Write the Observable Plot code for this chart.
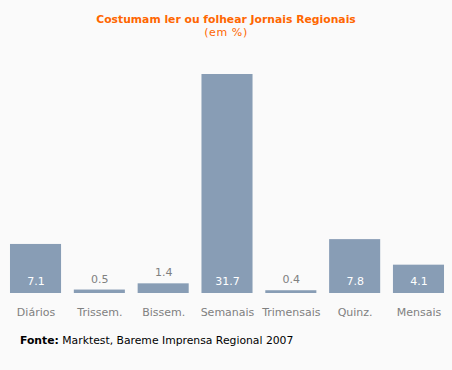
<!DOCTYPE html>
<html>
<head>
<meta charset="utf-8">
<script src="https://cdn.jsdelivr.net/npm/d3@7"></script>
<script src="https://cdn.jsdelivr.net/npm/@observablehq/plot@0.6"></script>
<style>
  html, body { margin: 0; padding: 0; background: #fafafa; }
  body { width: 452px; height: 370px; position: relative; overflow: hidden; font-family: "DejaVu Sans", Verdana, sans-serif; }
  #title { position: absolute; top: 13px; left: 0; width: 452px; text-align: center; color: #ff6600; font-size: 10.8px; font-weight: bold; line-height: 13px; }
  #subtitle { position: absolute; top: 26px; left: 0; width: 452px; text-align: center; color: #ff6600; font-size: 11px; letter-spacing: 0.6px; line-height: 13px; }
  #chart { position: absolute; top: 40px; left: 0; }
  #caption { position: absolute; top: 334px; left: 20px; font-size: 10.8px; color: #000; line-height: 14px; }
</style>
</head>
<body>
<div id="title">Costumam ler ou folhear Jornais Regionais</div>
<div id="subtitle">(em %)</div>
<div id="chart"></div>
<div id="caption"><b>Fonte:</b> Marktest, Bareme Imprensa Regional 2007</div>
<script>
const categories = ["Diários", "Trissem.", "Bissem.", "Semanais", "Trimensais", "Quinz.", "Mensais"];
const values = [7.1, 0.5, 1.4, 31.7, 0.4, 7.8, 4.1];
const labels = ["7.1", "0.5", "1.4", "31.7", "0.4", "7.8", "4.1"];

const data = categories.map((c, i) => ({cat: c, value: values[i], label: labels[i]}));
const tall = data.filter(d => d.value >= 3);
const short = data.filter(d => d.value < 3);

const chart = Plot.plot({
  width: 452,
  height: 290,
  marginLeft: 3.6,
  marginRight: 1.6,
  marginTop: 34,
  marginBottom: 37,
  style: {background: "transparent", fontFamily: "DejaVu Sans, Verdana, sans-serif"},
  x: {domain: categories, paddingInner: 0.2, paddingOuter: 0.1, round: false, axis: null},
  y: {domain: [0, 31.7], axis: null},
  marks: [
    Plot.barY(data, {x: "cat", y: "value", fill: "#889db5"}),
    Plot.text(tall, {x: "cat", y: 0, text: "label", dy: -12, fill: "#ffffff", fontSize: 11}),
    Plot.text(short, {x: "cat", y: "value", text: "label", dy: -11, fill: "#808080", fontSize: 11}),
    Plot.text(data, {x: "cat", y: 0, text: "cat", dy: 19, fill: "#808080", fontSize: 11})
  ]
});
document.getElementById("chart").appendChild(chart);
</script>
</body>
</html>
